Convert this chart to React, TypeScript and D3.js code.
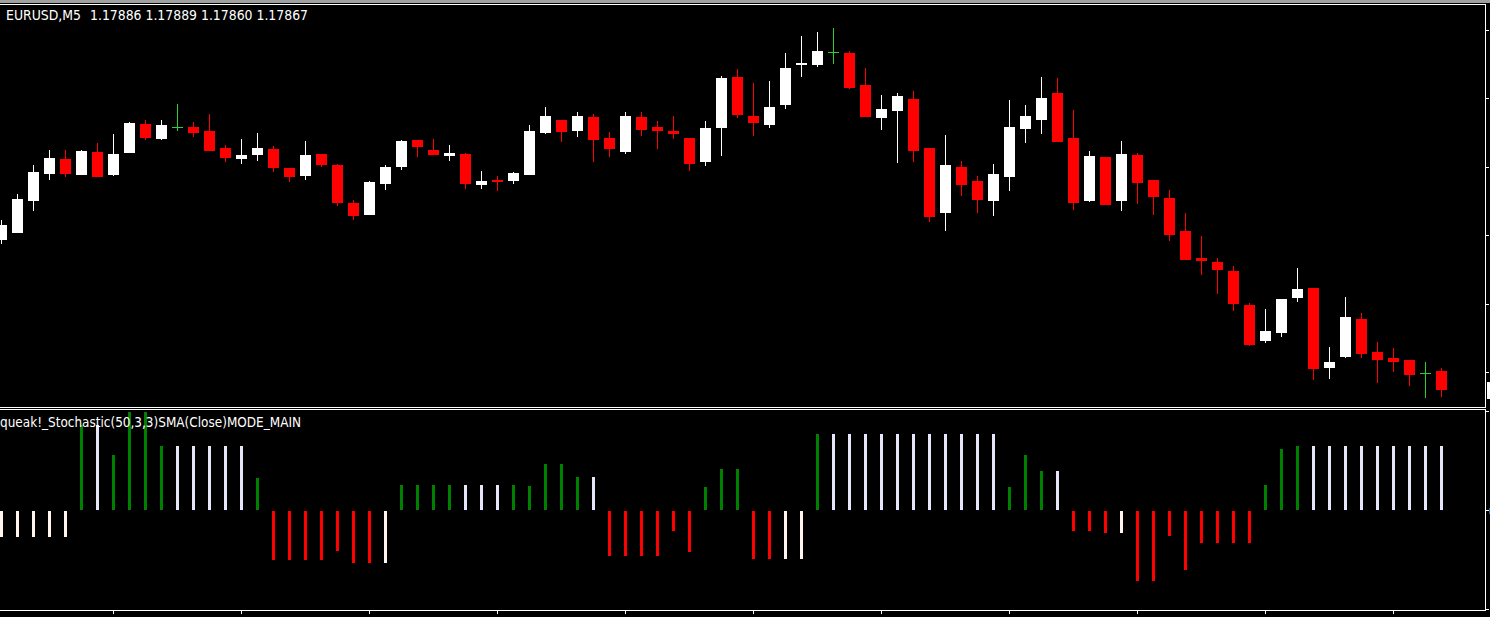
import React from 'react';
import * as d3 from 'd3';

// ---------- data ----------
const symbolLabel = 'EURUSD,M5';
const lastQuote = [1.17886, 1.17889, 1.1786, 1.17867];
const indicatorLabel = 'queak!_Stochastic(50,3,3)SMA(Close)MODE_MAIN';

const opens = [
  1.18017, 1.18024, 1.18056, 1.18083, 1.18098, 1.18082, 1.18105, 1.18082, 1.18104, 1.18133,
  1.18118, 1.1813, 1.1813, 1.18126, 1.18109, 1.18098, 1.18102, 1.18108, 1.18089, 1.18081,
  1.18103, 1.18092, 1.18054, 1.18042, 1.18073, 1.1809, 1.18117, 1.18107, 1.18101, 1.18103,
  1.18072, 1.18077, 1.18076, 1.18082, 1.18124, 1.18137, 1.18126, 1.1814, 1.18119, 1.18105,
  1.1814, 1.1813, 1.18126, 1.18119, 1.18095, 1.18129, 1.1818, 1.18141, 1.18132, 1.18152,
  1.18192, 1.18192, 1.18205, 1.18204, 1.18172, 1.18139, 1.18146, 1.18158, 1.18109, 1.18044,
  1.1809, 1.18076, 1.18056, 1.1808, 1.18128, 1.18137, 1.18164, 1.18119, 1.18056, 1.181,
  1.18056, 1.18102, 1.18077, 1.18059, 1.18026, 1.17999, 1.17995, 1.17986, 1.17952, 1.17916,
  1.17924, 1.17959, 1.17969, 1.17889, 1.179, 1.17938, 1.17905, 1.17899, 1.17897, 1.17884,
  1.17886,
];
const highs = [
  1.18037, 1.18063, 1.18092, 1.18107, 1.18107, 1.18107, 1.18114, 1.18123, 1.18135, 1.18137,
  1.18137, 1.18153, 1.18135, 1.18143, 1.18112, 1.18118, 1.18124, 1.18111, 1.18089, 1.18116,
  1.18103, 1.18093, 1.18057, 1.18076, 1.18092, 1.18117, 1.18117, 1.18118, 1.18112, 1.18104,
  1.18086, 1.18081, 1.18085, 1.18132, 1.1815, 1.18137, 1.18145, 1.18143, 1.18125, 1.18145,
  1.18145, 1.18136, 1.18141, 1.18119, 1.18136, 1.18181, 1.18188, 1.18174, 1.18176, 1.18204,
  1.18221, 1.18225, 1.18229, 1.18206, 1.18189, 1.18162, 1.18164, 1.18166, 1.18109, 1.18122,
  1.18096, 1.18081, 1.18093, 1.18157, 1.18152, 1.1818, 1.18179, 1.18147, 1.18106, 1.181,
  1.18116, 1.18104, 1.18077, 1.18067, 1.18044, 1.18021, 1.17999, 1.17991, 1.17954, 1.17948,
  1.17958, 1.17989, 1.17969, 1.1791, 1.1796, 1.17944, 1.17915, 1.17909, 1.17897, 1.17895,
  1.17889,
];
const lows = [
  1.18013, 1.18024, 1.18046, 1.18077, 1.1808, 1.18082, 1.1808, 1.18081, 1.18104, 1.18117,
  1.18117, 1.18126, 1.1812, 1.18106, 1.18095, 1.18093, 1.18096, 1.18085, 1.18075, 1.18077,
  1.1809, 1.18051, 1.18037, 1.18042, 1.18067, 1.18087, 1.181, 1.18102, 1.18096, 1.18068,
  1.18068, 1.18066, 1.18073, 1.18082, 1.18123, 1.18115, 1.1812, 1.18095, 1.181, 1.18103,
  1.18121, 1.18108, 1.18118, 1.18086, 1.18091, 1.18101, 1.18139, 1.18121, 1.18129, 1.18148,
  1.1818, 1.1819, 1.18193, 1.18168, 1.1814, 1.18127, 1.18094, 1.18095, 1.18035, 1.18026,
  1.18061, 1.18044, 1.18041, 1.18066, 1.18114, 1.18123, 1.18115, 1.18047, 1.18055, 1.18052,
  1.18046, 1.18053, 1.18042, 1.18016, 1.17997, 1.17982, 1.17963, 1.17946, 1.17911, 1.17914,
  1.1792, 1.17955, 1.17877, 1.17878, 1.17899, 1.17899, 1.17874, 1.17885, 1.17871, 1.17859,
  1.1786,
];
const closes = [
  1.18032, 1.18058, 1.18085, 1.18099, 1.18083, 1.18106, 1.1808, 1.18103, 1.18134, 1.18119,
  1.18132, 1.1813, 1.18124, 1.18106, 1.18099, 1.18102, 1.18109, 1.18089, 1.1808, 1.18102,
  1.18092, 1.18054, 1.18041, 1.18075, 1.1809, 1.18116, 1.1811, 1.18102, 1.18104, 1.18073,
  1.18076, 1.18075, 1.18084, 1.18126, 1.18141, 1.18125, 1.18141, 1.18117, 1.18108, 1.18141,
  1.18127, 1.18126, 1.18123, 1.18093, 1.18129, 1.18179, 1.18142, 1.18134, 1.1815, 1.18189,
  1.18194, 1.18206, 1.18205, 1.18169, 1.1814, 1.18148, 1.18161, 1.18106, 1.1804, 1.18092,
  1.18072, 1.18057, 1.18083, 1.1813, 1.18141, 1.18159, 1.18115, 1.18054, 1.18101, 1.18052,
  1.18103, 1.18074, 1.1806, 1.18022, 1.17997, 1.17996, 1.17987, 1.17953, 1.17912, 1.17926,
  1.17958, 1.17968, 1.17888, 1.17895, 1.1794, 1.17903, 1.17897, 1.17895, 1.17882, 1.17884,
  1.17867,
];

// histogram (stochastic main - 50) and its colour state per bar
const histValues = [
  -13.4, -13.4, -13.4, -13.4, -13.4, 43.2, 43.2, 28.0, 50, 50,
  32.6, 32.6, 32.6, 32.6, 32.6, 32.6, 16.4, -25.0, -25.0, -25.0,
  -25.0, -20.5, -26.5, -26.5, -26.5, 12.9, 12.9, 12.9, 12.9, 12.9,
  12.9, 12.9, 12.9, 12.4, 23.5, 23.5, 16.9, 16.9, -23.0, -23.0,
  -23.0, -23.0, -10.4, -21.0, 11.9, 21.0, 21.0, -24.5, -24.5, -24.5,
  -24.5, 38.6, 38.6, 38.6, 38.6, 38.6, 38.6, 38.6, 38.6, 38.6,
  38.6, 38.6, 38.6, 11.9, 28.0, 19.9, 19.9, -10.4, -10.4, -11.4,
  -11.4, -35.6, -35.6, -12.9, -30.1, -16.4, -16.4, -16.4, -16.4, 12.9,
  31.1, 32.6, 32.6, 32.6, 32.6, 32.6, 32.6, 32.6, 32.6, 32.6,
  32.6,
];
const histStates = [
  'c', 'c', 'c', 'c', 'c', 'g', 'w', 'g', 'g', 'g',
  'g', 'w', 'w', 'w', 'w', 'w', 'g', 'r', 'r', 'r',
  'r', 'r', 'r', 'r', 'c', 'g', 'g', 'g', 'g', 'w',
  'w', 'w', 'g', 'g', 'g', 'g', 'g', 'w', 'r', 'r',
  'r', 'r', 'r', 'r', 'g', 'g', 'g', 'r', 'r', 'c',
  'c', 'g', 'w', 'w', 'w', 'w', 'w', 'w', 'w', 'w',
  'w', 'w', 'w', 'g', 'g', 'g', 'w', 'r', 'r', 'r',
  'c', 'r', 'r', 'r', 'r', 'r', 'r', 'r', 'r', 'g',
  'g', 'g', 'w', 'w', 'w', 'w', 'w', 'w', 'w', 'w',
  'w',
];

const priceTicks = [1.18227, 1.18159, 1.1809, 1.18022, 1.17953, 1.17885];
const histTicks = [50, 0, -50];
const timeTickBars = [7, 15, 23, 31, 39, 47, 55, 63, 71, 79, 87];

// ---------- styling ----------
const W = 1490;
const H = 617;
const BG = '#000000';
const FG = '#FFFFFF';
const BULL = '#FFFFFF';
const BEAR = '#FF0000';
const DOJI = '#32CD32';
const histColors: Record<string, string> = {
  g: '#008000',
  w: '#E6E6FA',
  r: '#FF0000',
  c: '#FFF5EE',
};
const FONT = '"DejaVu Sans Condensed", "DejaVu Sans", Tahoma, sans-serif';

export default function App() {
  const n = opens.length;
  const x = d3.scaleLinear().domain([0, n - 1]).range([1.5, 1.5 + 16 * (n - 1)]);
  const y = d3.scaleLinear().domain([1.1785, 1.18257]).range([407, 0]);
  const hy = d3.scaleLinear().domain([-50, 50]).range([609.5, 411.5]);

  const rightX = 1485;
  const mainTop = 4;
  const mainBottom = 407;
  const subTop = 409;
  const subBottom = 610;

  const candles = d3.range(n).map((i) => {
    const o = opens[i];
    const c = closes[i];
    const cx = x(i);
    const yO = Math.round(y(o));
    const yC = Math.round(y(c));
    const yH = Math.round(y(highs[i]));
    const yL = Math.round(y(lows[i]));
    const kind = c > o ? 'bull' : c < o ? 'bear' : 'doji';
    const color = kind === 'bull' ? BULL : kind === 'bear' ? BEAR : DOJI;
    const top = Math.min(yO, yC);
    const h = Math.max(1, Math.abs(yO - yC));
    return (
      <g key={i}>
        <line x1={cx} x2={cx} y1={yH} y2={yL} stroke={color} strokeWidth={1} />
        <rect x={cx - 5.5} y={top} width={11} height={kind === 'doji' ? 1 : h} fill={color} />
      </g>
    );
  });

  const bars = histValues.map((v, i) => {
    const cx = x(i);
    const yv = Math.round(hy(v));
    const zeroTop = Math.floor(hy(0));
    let top: number;
    let h: number;
    if (v >= 0) {
      top = yv;
      h = zeroTop - yv;
    } else {
      top = zeroTop + 1;
      h = yv - top;
    }
    return (
      <rect key={i} x={cx - 1.5} y={top} width={3} height={Math.max(h, 0)} fill={histColors[histStates[i]]} />
    );
  });

  return (
    <div style={{ position: 'fixed', left: 0, top: 0, width: W, height: H, background: BG }}>
      <svg width={W} height={H} style={{ display: 'block' }} shapeRendering="crispEdges">
        <rect x={0} y={0} width={W} height={H} fill={BG} />
        <rect x={0} y={0} width={W} height={3} fill="#A0A0A0" />

        <g>{candles}</g>
        <g>{bars}</g>

        {/* frames */}
        <line x1={0} x2={rightX + 1} y1={mainTop + 0.5} y2={mainTop + 0.5} stroke={FG} />
        <line x1={0} x2={rightX + 1} y1={mainBottom + 0.5} y2={mainBottom + 0.5} stroke={FG} />
        <line x1={rightX + 0.5} x2={rightX + 0.5} y1={mainTop} y2={mainBottom + 1} stroke={FG} />
        <line x1={0} x2={rightX + 1} y1={subTop + 0.5} y2={subTop + 0.5} stroke={FG} />
        <line x1={0} x2={rightX + 1} y1={subBottom + 0.5} y2={subBottom + 0.5} stroke={FG} />
        <line x1={rightX + 0.5} x2={rightX + 0.5} y1={subTop} y2={subBottom + 1} stroke={FG} />

        {priceTicks.map((p, i) => {
          const ty = Math.round(y(p)) + 0.5;
          return <line key={i} x1={rightX + 1} x2={rightX + 4} y1={ty} y2={ty} stroke={FG} />;
        })}
        {histTicks.map((v, i) => {
          const ty = Math.floor(hy(v)) + 0.5;
          return <line key={i} x1={rightX + 1} x2={rightX + 4} y1={ty} y2={ty} stroke={FG} />;
        })}

        {timeTickBars.map((b, i) => {
          const tx = x(b);
          return <line key={i} x1={tx} x2={tx} y1={subBottom + 1} y2={subBottom + 4} stroke={FG} />;
        })}

        <rect x={1487} y={Math.round(y(lastQuote[3])) - 8} width={10} height={17} fill={FG} />
        <rect x={1489} y={Math.floor(hy(0)) - 2} width={4} height={6} fill="#2A5F96" />

        <g shapeRendering="auto" fontFamily={FONT} fontSize={14} fill={FG}>
          <text x={6} y={20} textLength={75} lengthAdjust="spacingAndGlyphs">
            {symbolLabel}
          </text>
          <text x={90} y={20} textLength={218} lengthAdjust="spacingAndGlyphs">
            {lastQuote.map((q) => q.toFixed(5)).join(' ')}
          </text>
          <text x={0} y={427} textLength={301} lengthAdjust="spacingAndGlyphs">
            {indicatorLabel}
          </text>
        </g>
      </svg>
    </div>
  );
}
